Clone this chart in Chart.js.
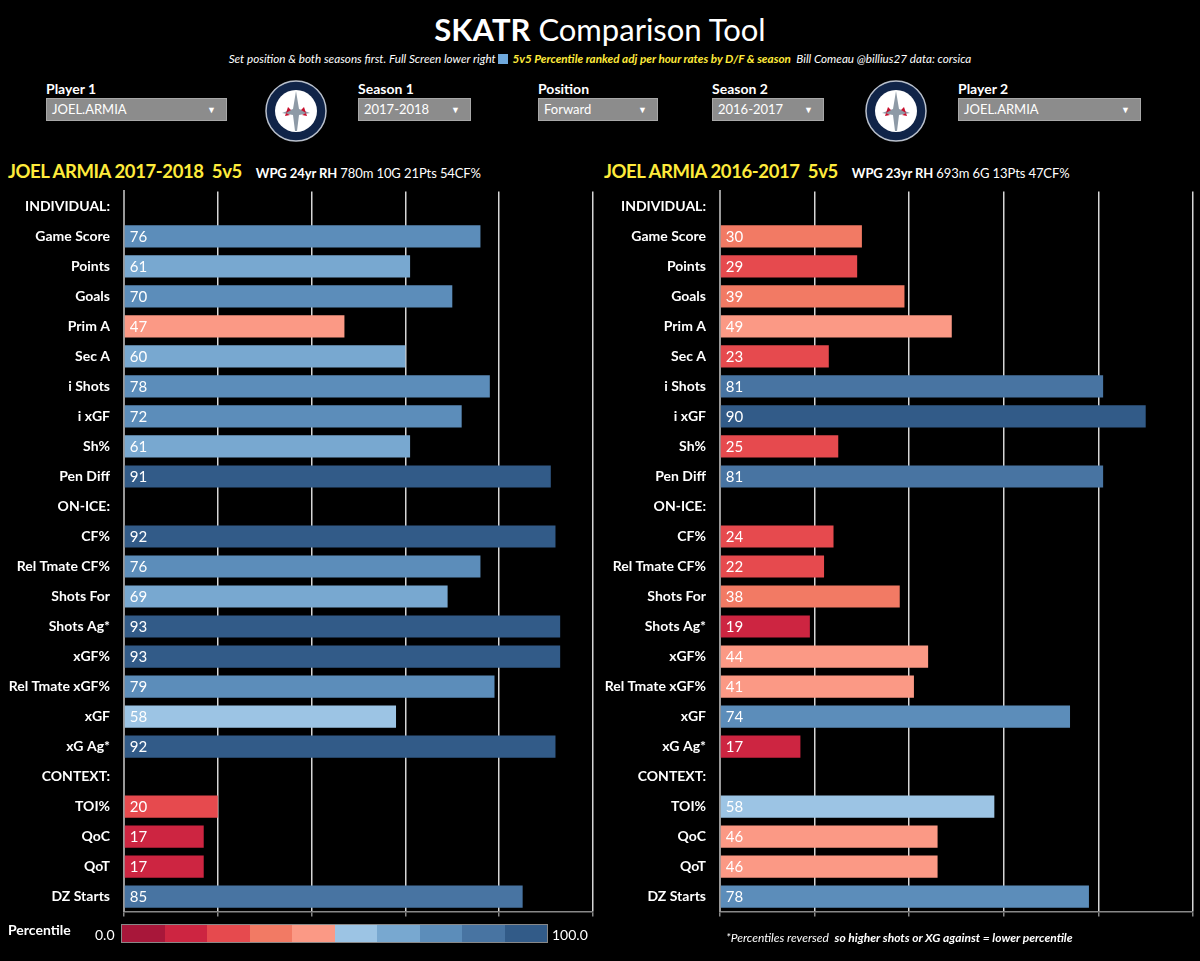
<!DOCTYPE html>
<html>
<head>
<meta charset="utf-8">
<script src="https://cdn.jsdelivr.net/npm/chart.js@4.4.1/dist/chart.umd.min.js"></script>
<style>
  html, body { margin:0; padding:0; background:#000; }
  body { width:1200px; height:961px; position:relative; overflow:hidden; font-family:Lato, "Open Sans", sans-serif; color:#fff; }
  .abs { position:absolute; white-space:nowrap; }
  .title { left:0; width:1200px; top:10px; text-align:center; font-size:31px; }
  .sub { left:0; width:1200px; top:51px; text-align:center; font-size:11.7px; font-style:italic; }
  .sub .y { color:#ffeb3b; font-weight:700; }
  .ctl-lbl { font-size:14px; font-weight:700; top:80px; }
  .dd { top:98px; height:23px; background:#8c8c8c; border:1px solid #a8a8a8; box-sizing:border-box;
        font-size:13px; line-height:21px; padding-left:5px; color:#fff; }
  .dd .arr { position:absolute; right:10px; top:0; font-size:9px; }
  .ptitle { top:160px; font-size:18.5px; font-weight:700; color:#ffeb3b; letter-spacing:-0.4px; }
  .ptitle .w { color:#fff; font-size:13px; letter-spacing:-0.1px; margin-left:14px; }
  .ptitle .n { color:#fff; font-size:13px; font-weight:400; letter-spacing:-0.1px; }
  canvas.ch { position:absolute; }
  .legend { left:121px; top:924px; width:427px; height:19px; display:flex; border:1px solid #888; box-sizing:border-box; }
  .legend div { flex:1; }
  .foot { left:726px; top:930px; font-size:12px; font-style:italic; }
</style>
</head>
<body>
<div class="abs title"><b>SKATR</b> Comparison Tool</div>
<div class="abs sub">Set position &amp; both seasons first. Full Screen lower right<span style="display:inline-block;width:10px;height:10px;background:#6fa8dc;vertical-align:-1px;margin:0 2px"></span> <span class="y">5v5 Percentile ranked adj per hour rates by D/F &amp; season</span>&nbsp; Bill Comeau @billius27 data: corsica</div>

<div class="abs ctl-lbl" style="left:46px">Player 1</div>
<div class="abs dd" style="left:46px;width:181px">JOEL.ARMIA<span class="arr">▼</span></div>
<div class="abs ctl-lbl" style="left:358px">Season 1</div>
<div class="abs dd" style="left:358px;width:113px">2017-2018<span class="arr">▼</span></div>
<div class="abs ctl-lbl" style="left:538px">Position</div>
<div class="abs dd" style="left:538px;width:120px">Forward<span class="arr">▼</span></div>
<div class="abs ctl-lbl" style="left:712px">Season 2</div>
<div class="abs dd" style="left:712px;width:112px">2016-2017<span class="arr">▼</span></div>
<div class="abs ctl-lbl" style="left:958px">Player 2</div>
<div class="abs dd" style="left:958px;width:183px">JOEL.ARMIA<span class="arr">▼</span></div>

<svg class="abs" style="left:264px;top:79px" width="64" height="64" viewBox="0 0 64 64">
  <circle cx="32" cy="32" r="30" fill="#102448" stroke="#b9c0cc" stroke-width="1.5"/>
  <circle cx="32" cy="32" r="21" fill="#fff"/>
  <polygon points="32,12 35,30 46,34 35,36 33,52 31,52 29,36 18,34 29,30" fill="#8e9aa6"/>
  <polygon points="24,28 27,31 22,34 26,36 21,37" fill="#c8102e"/>
  <polygon points="40,28 37,31 42,34 38,36 43,37" fill="#c8102e"/>
</svg>
<svg class="abs" style="left:864px;top:79px" width="64" height="64" viewBox="0 0 64 64">
  <circle cx="32" cy="32" r="30" fill="#102448" stroke="#b9c0cc" stroke-width="1.5"/>
  <circle cx="32" cy="32" r="21" fill="#fff"/>
  <polygon points="32,12 35,30 46,34 35,36 33,52 31,52 29,36 18,34 29,30" fill="#8e9aa6"/>
  <polygon points="24,28 27,31 22,34 26,36 21,37" fill="#c8102e"/>
  <polygon points="40,28 37,31 42,34 38,36 43,37" fill="#c8102e"/>
</svg>

<div class="abs ptitle" style="left:8px">JOEL ARMIA 2017-2018&nbsp; 5v5<span class="w">WPG 24yr RH</span><span class="n"> 780m 10G 21Pts 54CF%</span></div>
<div class="abs ptitle" style="left:604px">JOEL ARMIA 2016-2017&nbsp; 5v5<span class="w">WPG 23yr RH</span><span class="n"> 693m 6G 13Pts 47CF%</span></div>

<canvas id="chartLeft" class="ch" style="left:0;top:177px" width="600" height="749"></canvas>
<canvas id="chartRight" class="ch" style="left:600px;top:177px" width="600" height="749"></canvas>

<div class="abs" style="left:8px;top:921px;font-size:14px;font-weight:700">Percentile</div>
<div class="abs" style="left:95px;top:926px;font-size:14px">0.0</div>
<div class="abs legend" id="legend"></div>
<div class="abs" style="left:552px;top:926px;font-size:14px">100.0</div>
<div class="abs foot">*Percentiles reversed&nbsp; <b>so higher shots or XG against = lower percentile</b></div>

<script>
'use strict';

// rows, top to bottom (section headers carry no value)
const CATEGORIES = ['INDIVIDUAL:', 'Game Score', 'Points', 'Goals', 'Prim A', 'Sec A', 'i Shots', 'i xGF', 'Sh%', 'Pen Diff',
  'ON-ICE:', 'CF%', 'Rel Tmate CF%', 'Shots For', 'Shots Ag*', 'xGF%', 'Rel Tmate xGF%', 'xGF', 'xG Ag*',
  'CONTEXT:', 'TOI%', 'QoC', 'QoT', 'DZ Starts'];

const SEASON_1 = [null, 76, 61, 70, 47, 60, 78, 72, 61, 91, null, 92, 76, 69, 93, 93, 79, 58, 92, null, 20, 17, 17, 85];
const SEASON_2 = [null, 30, 29, 39, 49, 23, 81, 90, 25, 81, null, 24, 22, 38, 19, 44, 41, 74, 17, null, 58, 46, 46, 78];

const X_MIN = 0, X_MAX = 100, X_STEP = 20;

// 10 percentile steps, red -> blue
const PALETTE = ['#a8173a', '#cd2541', '#e64a4e', '#f27a64', '#fb9985',
                 '#9cc4e4', '#78a8d0', '#5c8dba', '#4874a2', '#325b88'];

function colorFor(v) {
  if (v == null) return 'rgba(0,0,0,0)';
  return PALETTE[Math.min(9, Math.floor(v / 10))];
}

const legendEl = document.getElementById('legend');
PALETTE.forEach(c => {
  const d = document.createElement('div');
  d.style.background = c;
  legendEl.appendChild(d);
});

// value text inside each bar, at its base
const valueLabels = {
  id: 'valueLabels',
  afterDatasetsDraw(chart) {
    const ctx = chart.ctx;
    const ds = chart.data.datasets[0];
    const meta = chart.getDatasetMeta(0);
    ctx.save();
    ctx.font = '15px Lato';
    ctx.fillStyle = '#fff';
    ctx.textBaseline = 'middle';
    ctx.textAlign = 'left';
    meta.data.forEach((bar, i) => {
      const v = ds.data[i];
      if (v == null) return;
      ctx.fillText(String(v), bar.base + 5, bar.y + 1);
    });
    ctx.restore();
  }
};

function buildChart(id, values, axisWidth) {
  return new Chart(document.getElementById(id), {
    type: 'bar',
    data: {
      labels: CATEGORIES,
      datasets: [{
        data: values,
        backgroundColor: values.map(colorFor),
        borderWidth: 0,
        barPercentage: 0.74,
        categoryPercentage: 1
      }]
    },
    options: {
      indexAxis: 'y',
      responsive: false,
      animation: false,
      layout: { padding: { top: 6, right: 7, bottom: 4, left: 0 } },
      plugins: { legend: { display: false }, tooltip: { enabled: false } },
      scales: {
        x: {
          min: X_MIN, max: X_MAX,
          ticks: { display: false, stepSize: X_STEP },
          grid: { color: '#d6d6d6', lineWidth: 1.5, drawTicks: true, tickLength: 5, tickColor: '#888' },
          border: { display: true, color: '#888', width: 1.5 }
        },
        y: {
          grid: { display: false },
          border: { display: true, color: '#999', width: 2 },
          ticks: { color: '#fff', font: { family: 'Lato', size: 14, weight: '700' }, padding: 6, autoSkip: false },
          afterFit(s) { s.width = axisWidth; }
        }
      }
    },
    plugins: [valueLabels]
  });
}

buildChart('chartLeft', SEASON_1, 124);
buildChart('chartRight', SEASON_2, 120);
</script>
</body>
</html>
